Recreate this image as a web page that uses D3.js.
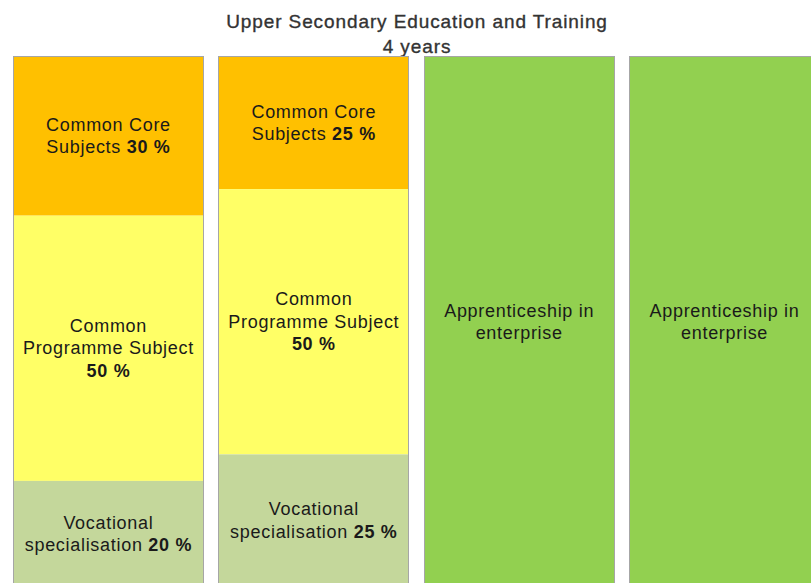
<!DOCTYPE html>
<html>
<head>
<meta charset="utf-8">
<script src="https://cdn.jsdelivr.net/npm/d3@7"></script>
<style>
  body { margin: 0; background: #fff; overflow: hidden; }
  svg { display: block; font-family: "Liberation Sans", Arial, sans-serif; }
</style>
</head>
<body>
<div id="container"></div>
<script>
/* CONSTANTS AND GLOBALS */
const width = 811,
  height = 583;

// DATA
const titleLines = ["Upper Secondary Education and Training", "4 years"];
const columns = ["Year 1", "Year 2", "Year 3", "Year 4"];
const schoolYears = ["Year 1", "Year 2"];
const apprenticeYears = ["Year 3", "Year 4"];
const coreShare = [30, 25];
const programmeShare = [50, 50];
const vocationalShare = [20, 25];
const apprenticeShare = [100, 100];

// label lines, text after "|" is bold
const coreLabel = [["Common Core", "Subjects |30 %"], ["Common Core", "Subjects |25 %"]];
const programmeLabel = [["Common", "Programme Subject", "|50 %"], ["Common", "Programme Subject", "|50 %"]];
const vocationalLabel = [["Vocational", "specialisation |20 %"], ["Vocational", "specialisation |25 %"]];
const apprenticeLabel = ["Apprenticeship in", "enterprise"];

const colors = {
  core: "#FFC000",
  programme: "#FFFF66",
  vocational: "#C4D79B",
  apprentice: "#92D050"
};

// build segment rows for the stack
const rows = columns.map(c => {
  const s = schoolYears.indexOf(c);
  const a = apprenticeYears.indexOf(c);
  return {
    column: c,
    core: s >= 0 ? coreShare[s] : 0,
    programme: s >= 0 ? programmeShare[s] : 0,
    vocational: s >= 0 ? vocationalShare[s] : 0,
    apprentice: a >= 0 ? apprenticeShare[a] : 0
  };
});

const labelFor = (key, column) => {
  const s = schoolYears.indexOf(column);
  if (key === "core") return coreLabel[s];
  if (key === "programme") return programmeLabel[s];
  if (key === "vocational") return vocationalLabel[s];
  return apprenticeLabel;
};

const keys = ["core", "programme", "vocational", "apprentice"];
const stacked = d3.stack().keys(keys)(rows);

// SCALES
const x = d3.scaleBand()
  .domain(columns)
  .range([13, 820])
  .paddingInner(0.0706)
  .paddingOuter(0);

const y = d3.scaleLinear()
  .domain([0, 100])
  .range([56.5, 587]);

// APPEND SVG
const svg = d3.select("#container")
  .append("svg")
  .attr("width", width)
  .attr("height", height);

// title
svg.append("g")
  .selectAll("text")
  .data(titleLines)
  .join("text")
  .attr("x", 417)
  .attr("y", (d, i) => 27.5 + i * 25.5)
  .attr("text-anchor", "middle")
  .attr("font-size", 19)
  .attr("letter-spacing", 0.9)
  .attr("fill", "#333")
  .attr("stroke", "#333")
  .attr("stroke-width", 0.35)
  .text(d => d);

// segments
const layers = svg.selectAll("g.layer")
  .data(stacked)
  .join("g")
  .attr("class", "layer")
  .attr("fill", d => colors[d.key]);

layers.selectAll("rect")
  .data(d => d.filter(p => p[1] > p[0]))
  .join("rect")
  .attr("x", d => Math.round(x(d.data.column)))
  .attr("y", d => y(d[0]))
  .attr("width", Math.round(x.bandwidth()))
  .attr("height", d => y(d[1]) - y(d[0]));

// column outlines
svg.selectAll("rect.outline")
  .data(columns)
  .join("rect")
  .attr("class", "outline")
  .attr("x", d => Math.round(x(d)) + 0.5)
  .attr("y", y(0))
  .attr("width", Math.round(x.bandwidth()) - 1)
  .attr("height", y(100) - y(0))
  .attr("fill", "none")
  .attr("stroke", "#A6A6A6")
  .attr("stroke-width", 1);

// labels
const lineHeight = 22.5;
stacked.forEach(layer => {
  layer.filter(p => p[1] > p[0]).forEach(p => {
    const lines = labelFor(layer.key, p.data.column);
    const cx = x(p.data.column) + x.bandwidth() / 2;
    const cy = (y(p[0]) + y(p[1])) / 2;
    const t = svg.append("text")
      .attr("text-anchor", "middle")
      .attr("font-size", 18)
      .attr("letter-spacing", 0.7)
      .attr("fill", "#1a1a1a");
    lines.forEach((line, i) => {
      const [plain, bold] = line.split("|");
      const ly = cy + (i - (lines.length - 1) / 2) * lineHeight + 6;
      const row = t.append("tspan")
        .attr("x", cx)
        .attr("y", ly);
      if (plain) row.append("tspan").text(plain);
      if (bold !== undefined) {
        row.append("tspan")
          .attr("font-weight", "bold")
          .text(bold);
      }
    });
  });
});
</script>
</body>
</html>
